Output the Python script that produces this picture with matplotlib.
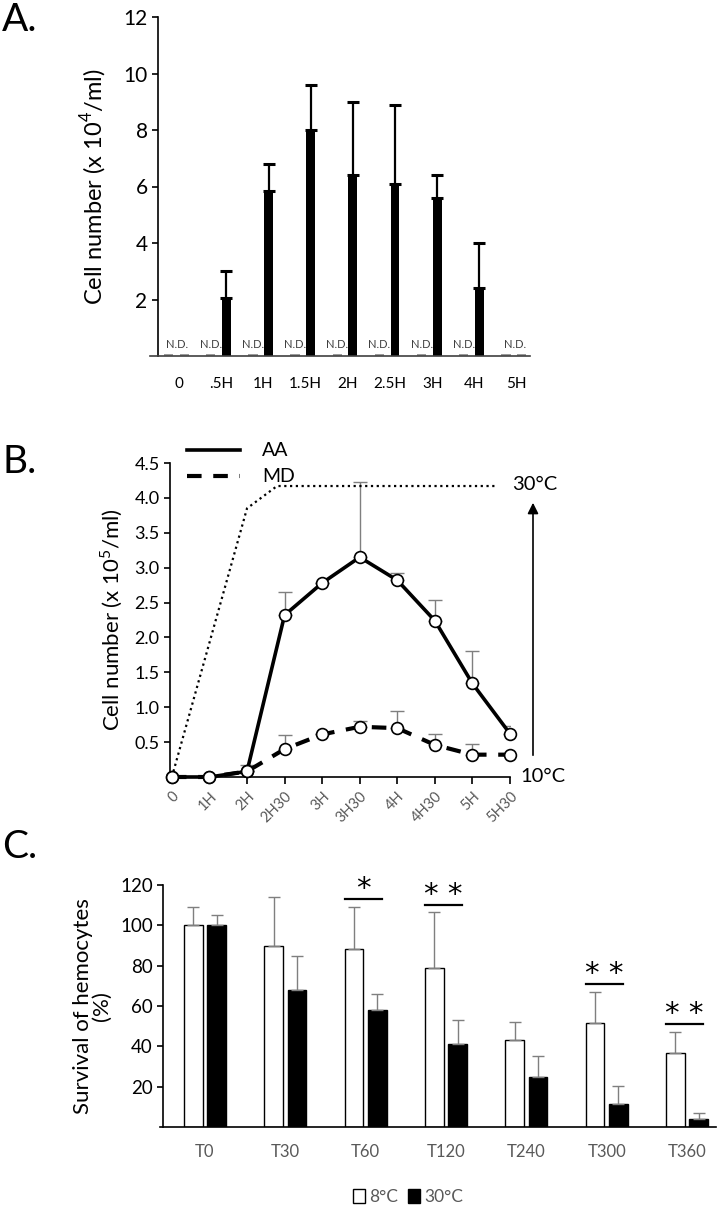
import numpy as np
import matplotlib
matplotlib.use("Agg")
import matplotlib.pyplot as plt
from matplotlib.patches import Patch

plt.rcParams["font.family"] = ["Lato", "DejaVu Sans"]
plt.rcParams["mathtext.fontset"] = "custom"
plt.rcParams["mathtext.rm"] = "Lato"

# ---- panel A data (cells x 10^4/ml, 30°C group; 8°C group all N.D.)
a_labels = ["0", ".5H", "1H", "1.5H", "2H", "2.5H", "3H", "4H", "5H"]
a_mean = [0, 2.05, 5.85, 8.0, 6.4, 6.1, 5.6, 2.4, 0]
a_top = [0, 3.0, 6.8, 9.6, 9.0, 8.9, 6.4, 4.0, 0]
a_nd = [True, False, False, False, False, False, False, False, True]

# ---- panel B data (cells x 10^5/ml)
b_labels = ["0", "1H", "2H", "2H30", "3H", "3H30", "4H", "4H30", "5H", "5H30"]
aa_mean = [0, 0, 0.08, 2.32, 2.78, 3.15, 2.82, 2.24, 1.34, 0.62]
aa_top = [0, 0, 0.17, 2.65, 2.78, 4.23, 2.92, 2.53, 1.80, 0.73]
md_mean = [0, 0, 0.08, 0.40, 0.61, 0.72, 0.70, 0.46, 0.32, 0.32]
md_top = [0, 0, 0.08, 0.60, 0.61, 0.80, 0.95, 0.61, 0.48, 0.32]
temp_x = [0, 2, 2.8, 8.6]
temp_y = [0, 3.85, 4.17, 4.17]

# ---- panel C data (survival %)
c_labels = ["T0", "T30", "T60", "T120", "T240", "T300", "T360"]
c8_mean = [100, 90, 88.5, 79, 43, 51.5, 36.5]
c8_top = [109, 114, 109, 106.5, 52, 67, 47]
c30_mean = [100, 68, 58, 41, 25, 11.5, 4]
c30_top = [105, 85, 66, 53, 35, 20.5, 7]
sig_idx = [2, 3, 5, 6]
sig_txt = ["*", "* *", "* *", "* *"]
sig_y = [113, 110, 71, 51]

W, H = 726, 1206
fig = plt.figure(figsize=(W / 100, H / 100), dpi=100)


def box(x0, y0, x1, y1):
    # pixel box (top-left origin) -> figure fraction rect
    return [x0 / W, 1 - y1 / H, (x1 - x0) / W, (y1 - y0) / H]


# ================= A =================
axA = fig.add_axes(box(150, 17, 530, 356))
x = np.arange(len(a_labels))
wpos = x - 0.25
bpos = x + 0.12
mean = np.array(a_mean, float)
top = np.array(a_top, float)
det = ~np.array(a_nd)
axA.bar(bpos[det], mean[det], width=0.21, color="black",
        yerr=[np.zeros(det.sum()), (top - mean)[det]],
        error_kw=dict(ecolor="black", elinewidth=1.6, capsize=4, capthick=2.2))
# N.D. marks
axA.bar(wpos, 0.07, width=0.22, color="#9a9a9a")
axA.bar(bpos[~det], 0.07, width=0.22, color="#9a9a9a")
for i in range(len(a_labels)):
    tx = x[i] - 0.04 if a_nd[i] else wpos[i]
    axA.text(tx, 0.2, "N.D.", ha="center", va="bottom", fontsize=8,
             color="#404040")
axA.set_xlim(-0.69, 8.32)
axA.set_ylim(0, 12)
axA.set_yticks([2, 4, 6, 8, 10, 12])
axA.set_xticks(x)
axA.set_xticklabels(a_labels)
axA.tick_params(axis="x", length=0, pad=15, labelsize=11)
axA.tick_params(axis="y", length=4, width=1.2, labelsize=15, direction="out")
axA.spines[["top", "right"]].set_visible(False)
axA.spines["left"].set_position(("data", -0.5))
axA.spines["left"].set_linewidth(1.2)
axA.spines["bottom"].set_color("#404040")
axA.spines["bottom"].set_linewidth(1.2)
axA.set_ylabel("Cell number (x 10$^{4}$/ml)", fontsize=17, labelpad=10)
fig.text(2 / W, 1 - 20 / H, "A.", fontsize=28, va="center", ha="left")

# ================= B =================
axB = fig.add_axes(box(170, 463, 510, 777))
xb = np.arange(len(b_labels))
axB.errorbar(xb, aa_mean, yerr=[np.zeros(len(xb)), np.array(aa_top) - aa_mean],
             fmt="none", ecolor="#7f7f7f", elinewidth=1, capsize=5, zorder=2)
axB.errorbar(xb, md_mean, yerr=[np.zeros(len(xb)), np.array(md_top) - md_mean],
             fmt="none", ecolor="#7f7f7f", elinewidth=1, capsize=5, zorder=2)
axB.plot(temp_x, temp_y, color="black", ls=(0, (1, 1.6)), lw=1.6, zorder=2)
axB.plot(xb, md_mean, color="black", lw=3, ls=(0, (3.5, 2.8)), zorder=3,
         marker="o", ms=8.5, mfc="white", mec="black", mew=1.2, clip_on=False)
axB.plot(xb, aa_mean, color="black", lw=2.6, zorder=4,
         marker="o", ms=8.5, mfc="white", mec="black", mew=1.2, clip_on=False)
axB.set_xlim(-0.05, 9)
axB.set_ylim(0, 4.5)
axB.set_yticks(np.arange(0.5, 4.6, 0.5))
axB.set_yticklabels([f"{v:.1f}" for v in np.arange(0.5, 4.6, 0.5)])
axB.set_xticks(xb)
axB.set_xticklabels(b_labels, rotation=45, ha="right", rotation_mode="anchor",
                    color="#595959")
axB.tick_params(axis="x", length=5, width=1.2, labelsize=10.5, pad=4)
axB.tick_params(axis="y", length=4, width=1.2, labelsize=13)
axB.spines[["top", "right"]].set_visible(False)
axB.spines[["left", "bottom"]].set_linewidth(1.2)
axB.set_ylabel("Cell number (x 10$^{5}$/ml)", fontsize=16, labelpad=7)
axB.annotate("", xy=(533 / W, 1 - 500 / H), xytext=(533 / W, 1 - 758 / H),
             xycoords="figure fraction",
             arrowprops=dict(arrowstyle="-|>", color="black", lw=1.2,
                             mutation_scale=16))
fig.text(512 / W, 1 - 485 / H, "30°C", fontsize=14.5, va="center")
fig.text(520 / W, 1 - 777 / H, "10°C", fontsize=14.5, va="center")
# legend drawn by hand
fig.add_artist(plt.Line2D([187 / W, 240 / W], [1 - 450 / H] * 2,
                          color="black", lw=2.6))
fig.add_artist(plt.Line2D([187 / W, 240 / W], [1 - 476 / H] * 2,
                          color="black", lw=3, ls=(0, (3.5, 2.8))))
fig.text(262 / W, 1 - 450 / H, "AA", fontsize=14, va="center")
fig.text(262 / W, 1 - 476 / H, "MD", fontsize=14, va="center")
fig.text(2 / W, 1 - 462 / H, "B.", fontsize=28, va="center", ha="left")

# ================= C =================
axC = fig.add_axes(box(160, 885, 716, 1127))
xc = np.arange(len(c_labels))
m8 = np.array(c8_mean)
m30 = np.array(c30_mean)
ekw = dict(ecolor="#7f7f7f", elinewidth=1, capsize=4.5, capthick=1)
axC.bar(xc - 0.145, m8, width=0.23, color="white", edgecolor="black", lw=1,
        yerr=[np.zeros(len(xc)), np.array(c8_top) - m8], error_kw=ekw,
        label="8°C")
axC.bar(xc + 0.145, m30, width=0.23, color="black", edgecolor="black", lw=1,
        yerr=[np.zeros(len(xc)), np.array(c30_top) - m30], error_kw=ekw,
        label="30°C")
for i, s, yv in zip(sig_idx, sig_txt, sig_y):
    axC.plot([i - 0.26, i + 0.2], [yv, yv], color="black", lw=1.6)
    axC.text(i - 0.03, yv - 2, s, ha="center", va="bottom", fontsize=21,
             family="DejaVu Sans")
axC.set_xlim(-0.56, 6.36)
axC.set_ylim(0, 120)
axC.set_yticks([20, 40, 60, 80, 100, 120])
axC.set_xticks(xc)
axC.set_xticklabels(c_labels, color="#595959")
axC.tick_params(axis="x", length=0, pad=12, labelsize=12)
axC.tick_params(axis="y", length=4, width=1.2, labelsize=13.5)
axC.spines[["top", "right"]].set_visible(False)
axC.spines["left"].set_position(("data", -0.52))
axC.spines[["left", "bottom"]].set_linewidth(1.2)
axC.set_ylabel("Survival of hemocytes\n(%)", fontsize=16, labelpad=6,
               linespacing=0.95)
fig.legend(handles=[Patch(facecolor="white", edgecolor="black", label="8°C"),
                    Patch(facecolor="black", edgecolor="black", label="30°C")],
           loc="center", bbox_to_anchor=(408 / W, 1 - 1197 / H), ncol=2,
           frameon=False, fontsize=12.5, handlelength=0.7, handleheight=0.9,
           handletextpad=0.2, columnspacing=0.6, labelcolor="#595959")
fig.text(2 / W, 1 - 847 / H, "C.", fontsize=28, va="center", ha="left")

fig.savefig("out.png", dpi=100)
